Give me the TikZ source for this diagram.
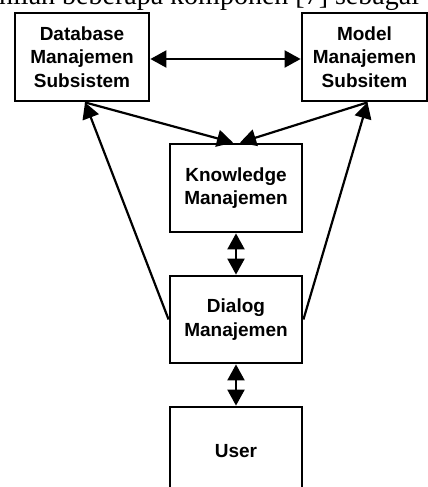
\documentclass[tikz,border=0pt]{standalone}
\usepackage{fontspec}
\usepackage{tikz}
\usetikzlibrary{arrows.meta}
\setmainfont{Liberation Serif}
\newfontfamily\boxfont{Liberation Sans}

\tikzset{
  block/.style={draw=black, line width=1.4pt, fill=white, align=center,
    inner sep=0pt, font=\boxfont\bfseries\fontsize{9.5}{11.7}\selectfont},
  link/.style={line width=1.1pt, -{Triangle[length=8pt,width=8.5pt]}},
  duplex/.style={line width=1.1pt, {Triangle[length=8pt,width=8.5pt]}-{Triangle[length=8pt,width=8.5pt]}}
}

\begin{document}
\begin{tikzpicture}[x=0.5pt, y=-0.5pt]
                % Frame
                \useasboundingbox (0,0) rectangle (428,487);
                
                % Cut line of text above
                \node[anchor=base west, inner sep=0pt, font=\fontsize{14}{16}\selectfont] (intro) at (-9,4) {inilah beberapa komponen [7] sebagai};
                
                % Subsystems
                \node[block, minimum width=67pt, minimum height=44pt] (dbm) at (82,57) {Database\\Manajemen\\Subsistem};
                \node[block, minimum width=62.5pt, minimum height=44pt] (mbm) at (364.5,57) {Model\\Manajemen\\Subsitem};
                
                % Middle column
                \node[block, minimum width=66pt, minimum height=44pt] (kbm) at (236,188) {Knowledge\\Manajemen};
                \node[block, minimum width=66pt, minimum height=43.5pt] (dlg) at (236,319.5) {Dialog\\Manajemen};
                \node[block, minimum width=66pt, minimum height=44pt] (usr) at (236,451) {User};
                
                % Arrows
                \draw[duplex] ([yshift=-1pt]dbm.east) -- ([yshift=-1pt]mbm.west);
                \draw[link] ([xshift=1.5pt]dbm.south) -- ([xshift=-1.5pt]kbm.north);
                \draw[link] ([xshift=1.5pt]mbm.south) -- ([xshift=2pt]kbm.north);
                \draw[link] (dlg.west) -- ([xshift=1.5pt]dbm.south);
                \draw[link] (dlg.east) -- ([xshift=1.5pt]mbm.south);
                \draw[duplex] (kbm.south) -- (dlg.north);
                \draw[duplex] (dlg.south) -- (usr.north);
            \end{tikzpicture}
\end{document}
